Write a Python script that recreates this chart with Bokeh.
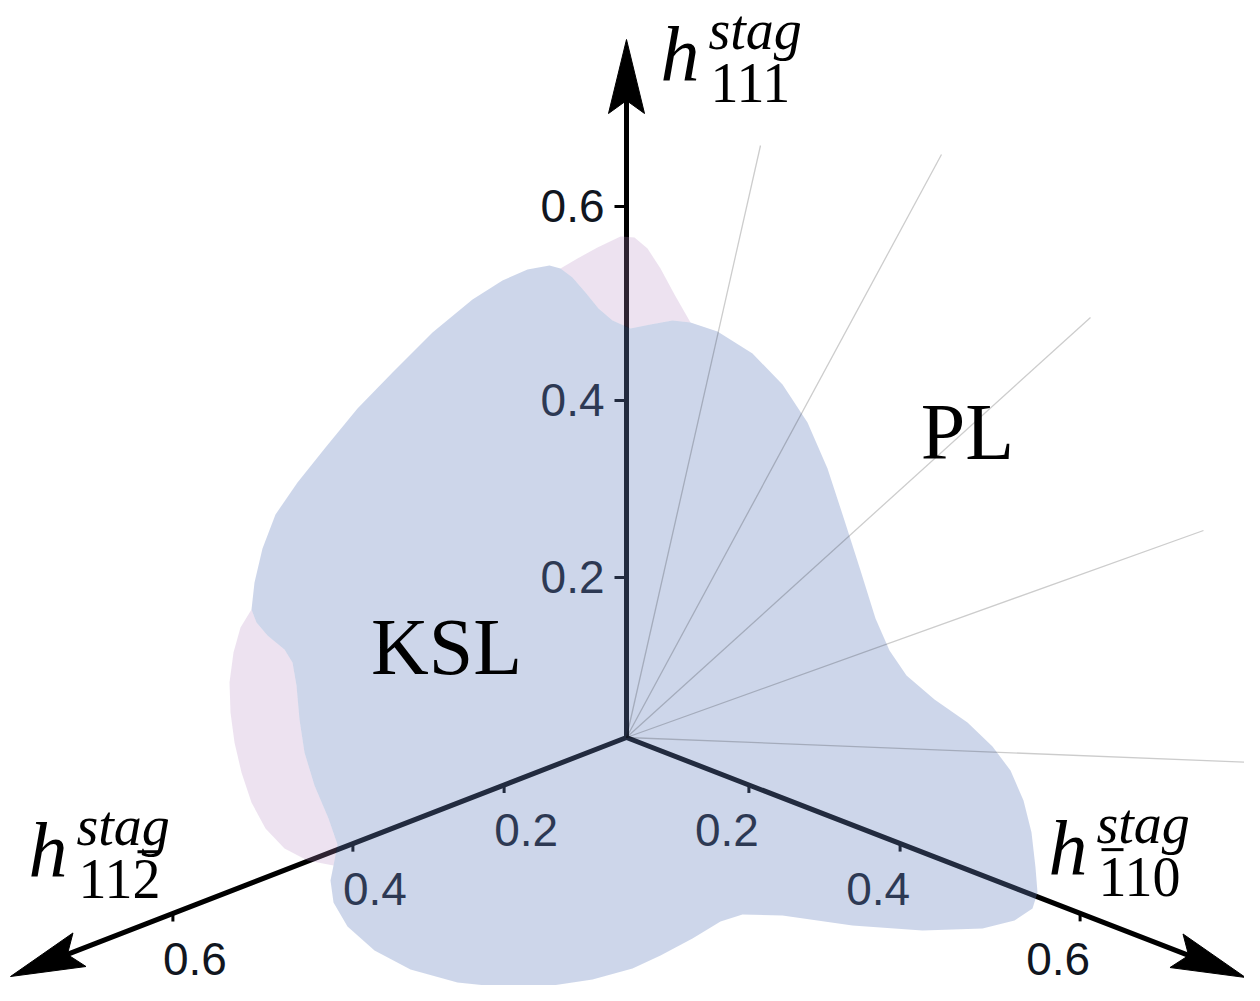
import numpy as np
from bokeh.plotting import figure
from bokeh.models import Range1d
from bokeh.core.properties import value
from bokeh.embed import file_html
from bokeh.resources import INLINE

# ---------------- data ----------------
tick_values = [0.2, 0.4, 0.6]
tick_labels = ["0.2", "0.4", "0.6"]

axis_names = ["111", "112", "110"]          # subscripts of h^stag
axis_bar_digit = [None, 2, 0]                # digit carrying an overbar

region_names = ["KSL", "PL"]
region_x = [454, 975]
region_y = [683, 468]

# blue (KSL) region boundary, projected plane coordinates
blue_x = [535, 557, 568, 580, 593, 606, 620, 638, 658, 680, 698, 725, 760, 790, 815, 835, 852, 868, 883, 897,
          914, 942, 975, 1000, 1018, 1031, 1039, 1043, 1045, 1040, 1022, 990, 930, 860, 790, 750, 728, 700, 668, 640,
          600, 560, 513, 465, 418, 382, 355, 341, 338, 341, 345, 336, 322, 312, 307, 304, 300, 292, 275, 264,
          259, 262, 270, 283, 305, 333, 365, 400, 440, 480, 510]
blue_y = [277, 273, 276, 285, 300, 316, 328, 336, 332, 328, 330, 339, 361, 392, 430, 476, 528, 578, 626, 658,
          683, 707, 730, 754, 778, 808, 840, 875, 900, 916, 928, 936, 938, 933, 923, 922, 929, 946, 963, 976,
          987, 993, 995, 990, 977, 958, 934, 910, 888, 873, 852, 826, 793, 760, 727, 693, 670, 657, 643, 630,
          617, 590, 556, 522, 490, 455, 416, 380, 340, 307, 288]

# pink region, visible outer edges (start/end on the blue boundary)
pink_top_x = [568, 585, 605, 628, 642, 655, 668, 682, 698]
pink_top_y = [276, 266, 255, 244, 245, 256, 276, 302, 330]
pink_left_x = [259, 248, 241, 237, 238, 242, 249, 259, 273, 292, 315, 341]
pink_left_y = [617, 635, 660, 690, 720, 750, 780, 810, 836, 856, 868, 873]

# thin radial field directions (end points)
ray_end_x = [768, 949, 1098, 1211, 1262]
ray_end_y = [153, 162, 325, 538, 770]

# ---------------- geometry helpers ----------------
O = np.array([634.0, 745.0])
axis_tip = {"up": np.array([634.0, 47.0]), "left": np.array([18.0, 984.0]), "right": np.array([1253.0, 985.0])}
BASE_K = 0.36   # correction of the alphabetic baseline (fraction of font size)


def axis_dist(axis, v):
    if axis == "up":
        return 757.5 * v + 212.5 * v * v
    return 540.0 * v + 360.0 * v * v


def axis_point(axis, v):
    d = axis_dist(axis, v)
    if axis == "up":
        return O + np.array([0.0, -d])
    t = axis_tip[axis]
    u = (t - O) / abs(t[0] - O[0])
    return O + u * d


def by_(y, size):
    return y - BASE_K * size


p = figure(width=1244, height=985, x_range=Range1d(8, 1252), y_range=Range1d(993, 8),
           output_backend="svg", toolbar_location=None, x_axis_type=None, y_axis_type=None,
           min_border=0, outline_line_color=None, background_fill_color="white", border_fill_color="white")
p.grid.visible = False

# axes lines + arrow heads
L, W, N = 74.0, 18.0, 13.0
lx0, ly0, lx1, ly1 = [], [], [], []
hx, hy = [], []
for name in ["up", "left", "right"]:
    t = axis_tip[name]
    u = (t - O) / np.linalg.norm(t - O)
    n = np.array([-u[1], u[0]])
    base = t - L * u
    notch = t - (L - N) * u
    lx0.append(O[0]); ly0.append(O[1]); lx1.append(notch[0]); ly1.append(notch[1])
    pts = [t, base + W * n, notch, base - W * n]
    hx.append([q[0] for q in pts]); hy.append([q[1] for q in pts])
p.segment(lx0, ly0, lx1, ly1, line_color="black", line_width=5, line_cap="round")
p.patches(hx, hy, fill_color="black", line_color="black", line_width=1)

# ticks
TS = 46
tx0, ty0, tx1, ty1 = [], [], [], []
lab_x, lab_y, lab_t, lab_al = [], [], [], []
for v, s in zip(tick_values, tick_labels):
    q = axis_point("up", v)
    tx0.append(q[0]); ty0.append(q[1]); tx1.append(q[0] - 12); ty1.append(q[1])
    lab_x.append(q[0] - 22); lab_y.append(by_(q[1] + 16, TS)); lab_t.append(s); lab_al.append("right")
    for name, sx in [("left", 1), ("right", -1)]:
        q = axis_point(name, v)
        tx0.append(q[0]); ty0.append(q[1]); tx1.append(q[0]); ty1.append(q[1] + 8)
        lab_x.append(q[0] + sx * 22); lab_y.append(by_(min(q[1] + 62, 985), TS)); lab_t.append(s)
        lab_al.append("center")
p.segment(tx0, ty0, tx1, ty1, line_color="black", line_width=3)
p.text(x=lab_x, y=lab_y, text=lab_t, text_align=lab_al, text_baseline="alphabetic",
       text_font=value("Liberation Sans"), text_font_size=f"{TS}px", text_color="#11161f")

# regions (translucent, on top of the axes)
bx = list(blue_x); by = list(blue_y)
i_top0, i_top1 = bx.index(pink_top_x[0]), bx.index(pink_top_x[-1])
i_l1, i_l0 = bx.index(pink_left_x[-1]), bx.index(pink_left_x[0])
ptx = pink_top_x + bx[i_top1 - 1:i_top0:-1]
pty = pink_top_y + by[i_top1 - 1:i_top0:-1]
plx = pink_left_x + bx[i_l1 + 1:i_l0]
ply = pink_left_y + by[i_l1 + 1:i_l0]
p.patches([ptx, plx], [pty, ply], fill_color="#b98cc3", fill_alpha=0.25, line_color=None)
p.patch(bx, by, fill_color="#6682be", fill_alpha=0.33, line_color=None)

# rays
p.segment([O[0]] * len(ray_end_x), [O[1]] * len(ray_end_x), ray_end_x, ray_end_y,
          line_color="black", line_alpha=0.2, line_width=1.3)

# region labels
RS = 80
p.text(x=region_x, y=[by_(y, RS) for y in region_y], text=region_names, text_align="center",
       text_baseline="alphabetic", text_font=value("Liberation Serif"), text_font_size=f"{RS}px",
       text_color="black")

# axis titles  h^{stag}_{...}
title_h_x = [668, 36, 1056]
title_h_y = [90, 886, 884]
H, S = 78, 56
sup_dx, sup_dy, sub_dx, sub_dy = 48, -32, 50, 21
p.text(x=title_h_x, y=[by_(y, H) for y in title_h_y], text=["h"] * 3, text_baseline="alphabetic",
       text_font=value("Liberation Serif"), text_font_style="italic", text_font_size=f"{H}px", text_color="black")
p.text(x=[x + sup_dx for x in title_h_x], y=[by_(y + sup_dy, S) for y in title_h_y], text=["stag"] * 3,
       text_baseline="alphabetic", text_font=value("Liberation Serif"), text_font_style="italic",
       text_font_size=f"{S}px", text_color="black")
p.text(x=[x + sub_dx for x in title_h_x], y=[by_(y + sub_dy, S) for y in title_h_y], text=axis_names,
       text_baseline="alphabetic", text_font=value("Liberation Serif"), text_font_size=f"{S}px", text_color="black")
bx0, bx1, byy = [], [], []
for x, y, k in zip(title_h_x, title_h_y, axis_bar_digit):
    if k is None:
        continue
    dw = 0.5 * S
    x0 = x + sub_dx + k * dw + 3
    bx0.append(x0); bx1.append(x0 + dw - 6)
    byy.append(y + sub_dy - 0.676 * S - 10)
p.segment(bx0, byy, bx1, byy, line_color="black", line_width=3)

open("out.html", "w").write(file_html(p, INLINE))
